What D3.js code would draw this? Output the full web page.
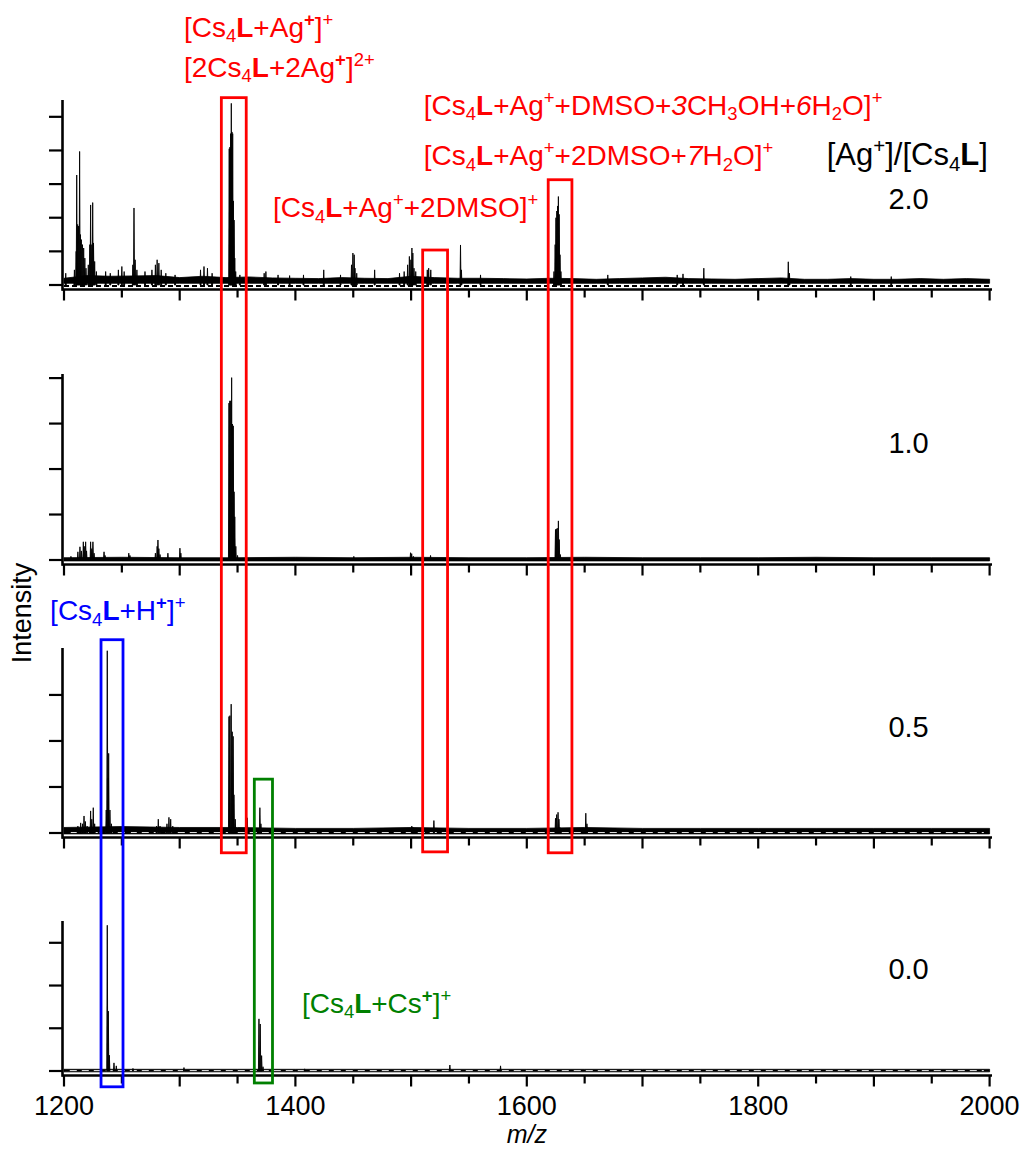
<!DOCTYPE html>
<html><head><meta charset="utf-8">
<script src="https://d3js.org/d3.v7.min.js"></script>
<style>
body{margin:0;background:#fff}
text{font-family:"Liberation Sans",Arial,Helvetica,sans-serif}
</style></head><body>
<svg id="c" width="1025" height="1149"></svg>
<script>
// ---------- DATA ----------
const mzDomain = [1200, 2000];
const majorTicks = [1200,1300,1400,1500,1600,1700,1800,1900,2000];
const minorTicks = [1250,1350,1450,1550,1650,1750,1850,1950];
const tickLabels = [1200,1400,1600,1800,2000];
const ratioLabels = ["2.0","1.0","0.5","0.0"];
const yMax = [5.5, 4.09, 4.02, 3.51];
const yTickMax = [5, 4, 3, 3];

// peaks: [m/z, intensity]
const peaks20 = [
 [1201.5,0.35],[1209,0.45],[1210.5,1.0],[1211,3.27],[1211.8,1.8],[1212.5,1.75],[1213.5,3.97],[1214.2,1.5],
 [1215,1.35],[1216,1.2],[1217,1.1],[1218,0.8],[1219,0.5],[1221,0.6],[1222.3,1.2],[1223,2.38],[1224,1.2],
 [1224.8,2.45],[1225.5,1.25],[1226.5,0.7],[1228,0.4],[1236,0.4],[1240,0.35],[1247,0.45],[1250,0.55],
 [1252,0.4],[1259.5,0.6],[1260.5,2.29],[1261.5,0.75],[1263,0.45],[1270,0.4],[1276,0.45],[1279,0.6],
 [1280.5,0.75],[1282,0.65],[1284,0.45],[1288,0.35],[1296,0.3],[1318,0.45],[1321,0.55],[1324,0.5],[1328,0.35],
 [1342.8,4.05],[1343.4,4.1],[1344.0,4.5],[1344.6,5.4],[1345.2,4.55],[1345.8,4.5],[1346.4,2.5],[1347,1.93],
 [1347.6,0.8],[1348.4,0.4],[1352,0.3],[1373,0.35],[1374.5,0.4],[1385,0.3],[1395,0.28],[1407,0.3],
 [1424.5,0.45],[1439,0.3],[1448.5,0.6],[1449.7,0.95],[1450.8,0.9],[1451.5,0.5],[1453,0.35],[1468.5,0.45],
 [1490,0.35],[1494,0.4],[1497,0.6],[1498.5,0.85],[1499.8,0.75],[1500.7,1.1],[1501.5,0.95],[1502.5,0.5],
 [1504,0.4],[1514,0.45],[1515.2,0.5],[1517,0.45],[1542.7,1.19],[1543.5,0.45],[1560,0.3],
 [1623.5,0.4],[1624.5,1.2],[1625.2,2.0],[1625.9,2.2],[1626.6,2.35],[1627.3,2.63],[1628,2.1],[1628.7,0.9],
 [1629.5,0.4],[1670,0.3],[1730,0.3],[1735,0.33],[1753,0.5],[1826,0.69],[1827,0.35],[1880,0.25],[1915,0.25]
];
const peaks10 = [
 [1206,0.08],[1212,0.18],[1213.8,0.29],[1215,0.2],[1216.7,0.4],[1217.5,0.3],[1218.7,0.4],[1219.5,0.2],
 [1223,0.4],[1224,0.25],[1225,0.4],[1226,0.15],[1234.6,0.18],[1235.5,0.1],[1256,0.15],[1257,0.1],
 [1279,0.15],[1280.5,0.3],[1281.2,0.44],[1282,0.25],[1283,0.12],[1289.8,0.15],[1300.2,0.26],[1301,0.15],
 [1342.6,3.45],[1343.3,3.5],[1344.1,3.5],[1344.9,4.01],[1345.6,2.99],[1346.3,2.95],[1347,1.5],[1347.6,0.95],
 [1348.5,0.3],[1350,0.1],[1450.5,0.08],[1499.5,0.16],[1500.5,0.14],[1502,0.08],[1516.8,0.1],
 [1624.8,0.67],[1625.5,0.68],[1626.3,0.7],[1627.3,0.86],[1628,0.45],[1629,0.12]
];
const peaks05 = [
 [1205,0.08],[1212,0.15],[1214.4,0.22],[1216,0.2],[1217.3,0.37],[1218.5,0.25],[1220,0.15],[1223,0.48],
 [1224,0.3],[1225.3,0.55],[1226.5,0.2],[1230,0.12],[1236.5,0.5],[1237.4,3.96],[1238.2,1.2],[1238.6,1.73],
 [1239.7,0.5],[1241,0.2],[1244,0.12],[1257,0.1],[1280,0.15],[1281.5,0.3],[1283,0.15],[1289,0.2],
 [1290.7,0.34],[1292.2,0.3],[1294,0.15],[1342.6,2.53],[1343.4,2.55],[1344.5,2.8],[1345.4,2.2],[1346.2,2.1],
 [1346.9,0.83],[1348,0.3],[1358.4,0.33],[1369.3,0.55],[1370.2,0.2],[1500.6,0.15],[1501.5,0.12],[1519.7,0.27],
 [1624.8,0.32],[1625.8,0.4],[1627,0.45],[1627.8,0.3],[1628.6,0.12],[1651,0.43],[1652,0.2]
];
const peaks00 = [
 [1237.4,3.41],[1238.3,1.40],[1239.2,0.37],[1243.2,0.19],[1245.2,0.12],[1259.6,0.06],[1303.7,0.08],
 [1368.5,1.22],[1369.6,1.1],[1370.8,0.36],[1372,0.1],[1408,0.05],[1533.5,0.14],[1577.3,0.12]
];

// baseline noise level (top of noise band), every 20 m/z for 2.0, every 50 m/z for others
const noise20 = [0.2,0.28,0.26,0.27,0.28,0.22,0.26,0.22,0.24,0.21,0.2,0.19,0.22,0.2,0.19,0.26,0.22,0.2,0.2,0.19,
                 0.18,0.2,0.19,0.17,0.19,0.21,0.23,0.19,0.18,0.17,0.19,0.21,0.17,0.17,0.19,0.17,0.17,0.19,0.17,0.19,0.17];
const noise10 = [0.05,0.06,0.05,0.05,0.06,0.05,0.06,0.05,0.05,0.06,0.05,0.05,0.05,0.06,0.05,0.05,0.05];
const noise05 = [0.12,0.14,0.12,0.12,0.1,0.1,0.12,0.1,0.1,0.12,0.1,0.1,0.1,0.1,0.1,0.1,0.1];
const noise00 = [0.04,0.04,0.04,0.04,0.04,0.04,0.04,0.04,0.04,0.04,0.04,0.04,0.04,0.04,0.04,0.04,0.04];

// highlight boxes: m/z range, top [panel, intensity], bottom [panel, intensity]
const boxes = [
 {mz:[1336,1357.5], top:[0,5.57], bottom:[2,-0.43], color:"#ff0000"},
 {mz:[1510,1531.5], top:[0,1.04], bottom:[2,-0.41], color:"#ff0000"},
 {mz:[1618.5,1639], top:[0,3.13], bottom:[2,-0.43], color:"#ff0000"},
 {mz:[1232,1251],   top:[2,4.2],  bottom:[3,-0.37], color:"#0000ff"},
 {mz:[1364.5,1380.2], top:[2,1.17], bottom:[3,-0.28], color:"#008000"}
];

// annotations: anchor [m/z, panel, intensity]
const annotations = [
 {at:[1303.7,0,7.38], size:28, color:"#ff0000", segs:[["[Cs",""],["4","sub"],["L","b"],["+Ag",""],["+","sup b"],["]",""],["+","sup"]]},
 {at:[1303.7,0,6.19], size:28, color:"#ff0000", segs:[["[2Cs",""],["4","sub"],["L","b"],["+2Ag",""],["+","sup b"],["]",""],["2+","sup"]]},
 {at:[1511,0,5.06], size:28, color:"#ff0000", segs:[["[Cs",""],["4","sub"],["L","b"],["+Ag",""],["+","sup"],["+DMSO+",""],["3","i"],["CH",""],["3","sub"],["OH+",""],["6","i"],["H",""],["2","sub"],["O]",""],["+","sup"]]},
 {at:[1511,0,3.57], size:28, color:"#ff0000", segs:[["[Cs",""],["4","sub"],["L","b"],["+Ag",""],["+","sup"],["+2DMSO+",""],["7","i"],["H",""],["2","sub"],["O]",""],["+","sup"]]},
 {at:[1380.6,0,2.02], size:28, color:"#ff0000", segs:[["[Cs",""],["4","sub"],["L","b"],["+Ag",""],["+","sup"],["+2DMSO]",""],["+","sup"]]},
 {at:[1188,2,4.63], size:28, color:"#0000ff", segs:[["[Cs",""],["4","sub"],["L","b"],["+H",""],["+","sup b"],["]",""],["+","sup"]]},
 {at:[1405.6,3,1.36], size:28, color:"#008000", segs:[["[Cs",""],["4","sub"],["L","b"],["+Cs",""],["+","sup b"],["]",""],["+","sup"]]},
 {at:[1859.2,0,3.57], size:31, color:"#000000", segs:[["[Ag",""],["+","sup"],["]/[Cs",""],["4","sub"],["L","b"],["]",""]]}
];
const ratioAnchors = [[1930,0,2.26],[1930,1,2.35],[1930,2,2.09],[1930,3,2.15]];

// ---------- LAYOUT ----------
const panels = [{top:100, zero:285},{top:374, zero:560},{top:648, zero:833},{top:921, zero:1071}];
const peakSets = [peaks20, peaks10, peaks05, peaks00];
const noiseSets = [noise20, noise10, noise05, noise00];
const noiseStep = [20, 50, 50, 50];

const svg = d3.select("#c");
const x = d3.scaleLinear().domain(mzDomain).range([64, 989.6]);
const ys = panels.map((p,i)=>d3.scaleLinear().domain([0,yMax[i]]).range([p.zero, p.top]));

panels.forEach((p,i)=>{
  const y = ys[i];
  const g = svg.append("g");
  // noise band
  const nz = noiseSets[i].map((v,k)=>[mzDomain[0]+k*noiseStep[i], v]);
  const lo = i===0 ? 0.05 : -0.02;
  g.append("path").datum(nz)
    .attr("d", d3.area().x(d=>x(d[0])).y0(y(lo)).y1(d=>y(d[1])))
    .attr("fill","#000").attr("stroke","#000").attr("stroke-width",0.8);
  if(i===0){
    g.append("line").attr("x1",x(1200)).attr("x2",x(2000)).attr("y1",y(-0.03)).attr("y2",y(-0.03))
     .attr("stroke","#000").attr("stroke-width",1.8).attr("stroke-dasharray","5,3");
  } else if(i!==1){
    g.append("line").attr("x1",x(1205)).attr("x2",x(1995)).attr("y1",y(0.01)).attr("y2",y(0.01))
     .attr("stroke","#fff").attr("stroke-width",0.9).attr("stroke-dasharray","7,5");
  }
  // peaks
  const hw = 0.45;
  g.selectAll("path.pk").data(peakSets[i]).join("path").attr("class","pk")
    .attr("d", d=>`M${x(d[0]-hw)},${y(0)}L${x(d[0])},${y(d[1])}L${x(d[0]+hw)},${y(0)}Z`)
    .attr("fill","#000").attr("stroke","#000").attr("stroke-width",0.9).attr("stroke-linejoin","round");

  // axes
  const axY = p.zero + 4.5;
  const ax = svg.append("g").attr("stroke","#000");
  ax.append("line").attr("x1",62.5).attr("x2",992).attr("y1",axY).attr("y2",axY).attr("stroke-width",2.6);
  ax.append("line").attr("x1",62.5).attr("x2",62.5).attr("y1",p.top).attr("y2",axY+1.3).attr("stroke-width",2.6);
  ax.selectAll("line.maj").data(majorTicks).join("line").attr("class","maj")
    .attr("x1",d=>x(d)).attr("x2",d=>x(d)).attr("y1",axY).attr("y2",axY+11).attr("stroke-width",2.2);
  ax.selectAll("line.min").data(minorTicks).join("line").attr("class","min")
    .attr("x1",d=>x(d)).attr("x2",d=>x(d)).attr("y1",axY).attr("y2",axY+8).attr("stroke-width",2.2);
  ax.selectAll("line.yt").data(d3.range(0,yTickMax[i]+1)).join("line").attr("class","yt")
    .attr("x1",49).attr("x2",62.5).attr("y1",d=>y(d)).attr("y2",d=>y(d)).attr("stroke-width",2.2);
});

// boxes
svg.selectAll("rect.box").data(boxes).join("rect").attr("class","box")
  .attr("x",d=>x(d.mz[0])).attr("width",d=>x(d.mz[1])-x(d.mz[0]))
  .attr("y",d=>ys[d.top[0]](d.top[1]))
  .attr("height",d=>ys[d.bottom[0]](d.bottom[1]) - ys[d.top[0]](d.top[1]))
  .attr("fill","none").attr("stroke",d=>d.color).attr("stroke-width",2.8);

// rich text helper
function rich(xp, yp, segs, size, color){
  const t = svg.append("text").attr("x",xp).attr("y",yp).attr("fill",color).attr("font-size",size);
  let shift = 0;
  segs.forEach(([s,st])=>{
    const toks = st.split(" ");
    const ts = t.append("tspan").text(s);
    let target = 0, fs = size;
    if(toks.includes("sub")){ target = size*0.2; fs = size*0.66; }
    if(toks.includes("sup")){ target = -size*0.38; fs = size*0.66; }
    if(toks.includes("b")) ts.attr("font-weight","bold");
    if(toks.includes("i")) ts.attr("font-style","italic");
    ts.attr("font-size",fs);
    if(target !== shift){ ts.attr("dy", target - shift); shift = target; }
  });
  return t;
}
annotations.forEach(a=>rich(x(a.at[0]), ys[a.at[1]](a.at[2]), a.segs, a.size, a.color));

ratioLabels.forEach((r,i)=>{
  const a = ratioAnchors[i];
  svg.append("text").attr("x",x(a[0])).attr("y",ys[a[1]](a[2])).attr("text-anchor","middle")
    .attr("font-size",29).attr("fill","#000").text(r);
});

// x tick labels (bottom panel)
svg.selectAll("text.xl").data(tickLabels).join("text").attr("class","xl")
  .attr("x",d=>x(d)).attr("y",panels[3].zero+43.5).attr("text-anchor","middle")
  .attr("font-size",27).attr("fill","#000").text(d=>d);

// axis titles
svg.append("text").attr("x",x(1600)).attr("y",1142.5).attr("text-anchor","middle")
  .attr("font-size",25).attr("font-style","italic").text("m/z");
svg.append("text").attr("transform","translate(31,613) rotate(-90)").attr("text-anchor","middle")
  .attr("font-size",27).text("Intensity");
</script>
</body></html>
